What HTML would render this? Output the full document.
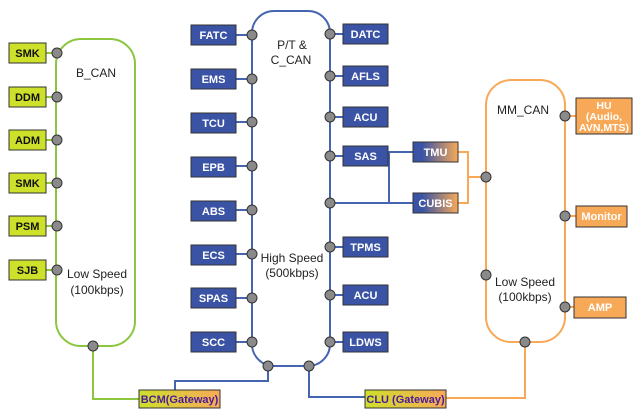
<!DOCTYPE html>
<html><head><meta charset="utf-8"><style>
html,body{margin:0;padding:0;background:#fff;}
svg{display:block;font-family:"Liberation Sans",Arial,sans-serif;}
.b{fill:#3a53a4;stroke:#333;stroke-width:1;}
.g{fill:#cde02a;stroke:#333;stroke-width:1;}
.o{fill:#f7a958;stroke:#333;stroke-width:1;}
.tw{fill:#fff;font-weight:bold;font-size:11px;text-anchor:middle;}
.tk{fill:#111;font-weight:bold;font-size:11px;text-anchor:middle;}
.tp{fill:#4b1a9a;font-weight:bold;font-size:11px;text-anchor:middle;}
.lbl{fill:#222;font-size:12px;text-anchor:middle;}
.d{fill:#8a8a8a;stroke:#333;stroke-width:1;}
</style></head><body>
<svg width="641" height="418" viewBox="0 0 641 418">
<defs>
<linearGradient id="bo" x1="0" x2="1"><stop offset="0.2" stop-color="#3a53a4"/><stop offset="1" stop-color="#f7a958"/></linearGradient>
<linearGradient id="go" x1="0" x2="1"><stop offset="0" stop-color="#cde02a"/><stop offset="1" stop-color="#f7a958"/></linearGradient>
</defs>
<rect x="56" y="39" width="79" height="307" rx="25" fill="none" stroke="#8cc63f" stroke-width="2"/>
<rect x="252" y="11" width="78" height="355" rx="22" fill="none" stroke="#4565b0" stroke-width="2"/>
<rect x="486" y="80" width="79" height="262" rx="25" fill="none" stroke="#f7a958" stroke-width="2"/>

<g stroke="#8cc63f" stroke-width="2">
<line x1="46" y1="53" x2="57" y2="53"/><line x1="46" y1="97" x2="57" y2="97"/>
<line x1="46" y1="140" x2="57" y2="140"/><line x1="46" y1="183" x2="57" y2="183"/>
<line x1="46" y1="226" x2="57" y2="226"/><line x1="46" y1="270" x2="57" y2="270"/>
<polyline points="93,346 93,399 139,399" fill="none"/>
</g>
<g stroke="#4565b0" stroke-width="2" fill="none">
<line x1="236" y1="35" x2="252" y2="35"/><line x1="236" y1="79" x2="252" y2="79"/>
<line x1="236" y1="122" x2="252" y2="122"/><line x1="236" y1="166" x2="252" y2="166"/>
<line x1="236" y1="210" x2="252" y2="210"/><line x1="236" y1="254" x2="252" y2="254"/>
<line x1="236" y1="298" x2="252" y2="298"/><line x1="236" y1="342" x2="252" y2="342"/>
<line x1="330" y1="34" x2="343" y2="34"/><line x1="330" y1="76" x2="343" y2="76"/>
<line x1="330" y1="117" x2="343" y2="117"/><line x1="330" y1="156" x2="343" y2="156"/>
<line x1="330" y1="247" x2="343" y2="247"/><line x1="330" y1="295" x2="343" y2="295"/>
<line x1="330" y1="342" x2="343" y2="342"/>
<line x1="388" y1="152" x2="413" y2="152"/>
<line x1="389" y1="152" x2="389" y2="203"/>
<line x1="330" y1="203" x2="413" y2="203"/>
<polyline points="268,366 268,381 175,381 175,390"/>
<polyline points="309,366 309,397 365,397"/>
</g>
<g stroke="#f7a958" stroke-width="2" fill="none">
<line x1="565" y1="116" x2="576" y2="116"/><line x1="565" y1="216" x2="576" y2="216"/>
<line x1="565" y1="307" x2="576" y2="307"/>
<polyline points="458,152 468,152 468,203 458,203"/>
<line x1="468" y1="177" x2="486" y2="177"/>
<polyline points="446,398 525,398 525,342"/>
</g>

<g>
<rect class="g" x="9" y="43" width="37" height="20"/><text class="tk" x="27.5" y="57">SMK</text>
<rect class="g" x="9" y="87" width="37" height="20"/><text class="tk" x="27.5" y="101">DDM</text>
<rect class="g" x="9" y="130" width="37" height="20"/><text class="tk" x="27.5" y="144">ADM</text>
<rect class="g" x="9" y="173" width="37" height="20"/><text class="tk" x="27.5" y="187">SMK</text>
<rect class="g" x="9" y="216" width="37" height="20"/><text class="tk" x="27.5" y="230">PSM</text>
<rect class="g" x="9" y="260" width="37" height="20"/><text class="tk" x="27.5" y="274">SJB</text>

<rect class="b" x="191" y="25" width="45" height="20"/><text class="tw" x="213.5" y="39">FATC</text>
<rect class="b" x="191" y="69" width="45" height="20"/><text class="tw" x="213.5" y="83">EMS</text>
<rect class="b" x="191" y="113" width="45" height="20"/><text class="tw" x="213.5" y="127">TCU</text>
<rect class="b" x="191" y="157" width="45" height="20"/><text class="tw" x="213.5" y="171">EPB</text>
<rect class="b" x="191" y="201" width="45" height="20"/><text class="tw" x="213.5" y="215">ABS</text>
<rect class="b" x="191" y="245" width="45" height="20"/><text class="tw" x="213.5" y="259">ECS</text>
<rect class="b" x="191" y="288" width="45" height="20"/><text class="tw" x="213.5" y="302">SPAS</text>
<rect class="b" x="191" y="332" width="45" height="20"/><text class="tw" x="213.5" y="346">SCC</text>

<rect class="b" x="343" y="24" width="45" height="20"/><text class="tw" x="365.5" y="38">DATC</text>
<rect class="b" x="343" y="66" width="45" height="20"/><text class="tw" x="365.5" y="80">AFLS</text>
<rect class="b" x="343" y="107" width="45" height="20"/><text class="tw" x="365.5" y="121">ACU</text>
<rect class="b" x="343" y="146" width="45" height="20"/><text class="tw" x="365.5" y="160">SAS</text>
<rect class="b" x="343" y="237" width="45" height="20"/><text class="tw" x="365.5" y="251">TPMS</text>
<rect class="b" x="343" y="285" width="45" height="20"/><text class="tw" x="365.5" y="299">ACU</text>
<rect class="b" x="343" y="332" width="45" height="20"/><text class="tw" x="365.5" y="346">LDWS</text>

<rect x="413" y="142" width="45" height="20" fill="url(#bo)" stroke="#333"/><text class="tw" x="435.5" y="156">TMU</text>
<rect x="413" y="193" width="45" height="20" fill="url(#bo)" stroke="#333"/><text class="tw" x="435.5" y="207">CUBIS</text>

<rect class="o" x="576" y="98" width="56" height="36"/>
<text class="tw" x="604" y="109" style="font-size:10.5px">HU</text><text class="tw" x="604" y="120" style="font-size:10.5px">(Audio,</text><text class="tw" x="604" y="131" style="font-size:10.5px">AVN,MTS)</text>
<rect class="o" x="576" y="206" width="51" height="21"/><text class="tw" x="601.5" y="220">Monitor</text>
<rect class="o" x="574" y="297" width="52" height="21"/><text class="tw" x="600" y="311">AMP</text>

<rect x="139" y="390" width="81" height="18" fill="url(#go)" stroke="#333"/><text class="tp" x="179.5" y="403">BCM(Gateway)</text>
<rect x="365" y="390" width="81" height="18" fill="url(#go)" stroke="#333"/><text class="tp" x="405.5" y="403">CLU (Gateway)</text>
</g>

<g>
<circle class="d" cx="57" cy="53" r="5"/><circle class="d" cx="57" cy="97" r="5"/>
<circle class="d" cx="57" cy="140" r="5"/><circle class="d" cx="57" cy="183" r="5"/>
<circle class="d" cx="57" cy="226" r="5"/><circle class="d" cx="57" cy="270" r="5"/>
<circle class="d" cx="93" cy="346" r="5"/>
<circle class="d" cx="252" cy="35" r="5"/><circle class="d" cx="252" cy="79" r="5"/>
<circle class="d" cx="252" cy="122" r="5"/><circle class="d" cx="252" cy="166" r="5"/>
<circle class="d" cx="252" cy="210" r="5"/><circle class="d" cx="252" cy="254" r="5"/>
<circle class="d" cx="252" cy="298" r="5"/><circle class="d" cx="252" cy="342" r="5"/>
<circle class="d" cx="330" cy="34" r="5"/><circle class="d" cx="330" cy="76" r="5"/>
<circle class="d" cx="330" cy="117" r="5"/><circle class="d" cx="330" cy="156" r="5"/>
<circle class="d" cx="330" cy="203" r="5"/><circle class="d" cx="330" cy="247" r="5"/>
<circle class="d" cx="330" cy="295" r="5"/><circle class="d" cx="330" cy="342" r="5"/>
<circle class="d" cx="268" cy="366" r="5"/><circle class="d" cx="309" cy="366" r="5"/>
<circle class="d" cx="486" cy="177" r="5"/><circle class="d" cx="486" cy="275" r="5"/>
<circle class="d" cx="565" cy="116" r="5"/><circle class="d" cx="565" cy="216" r="5"/>
<circle class="d" cx="565" cy="307" r="5"/><circle class="d" cx="525" cy="342" r="5"/>
</g>

<text class="lbl" x="96" y="77">B_CAN</text>
<text class="lbl" x="97" y="278">Low Speed</text><text class="lbl" x="97" y="294">(100kbps)</text>
<text class="lbl" x="292" y="49">P/T &amp;</text><text class="lbl" x="291" y="64">C_CAN</text>
<text class="lbl" x="292" y="262">High Speed</text><text class="lbl" x="292" y="277">(500kbps)</text>
<text class="lbl" x="523" y="114">MM_CAN</text>
<text class="lbl" x="525" y="286">Low Speed</text><text class="lbl" x="525" y="301">(100kbps)</text>
</svg>
</body></html>
